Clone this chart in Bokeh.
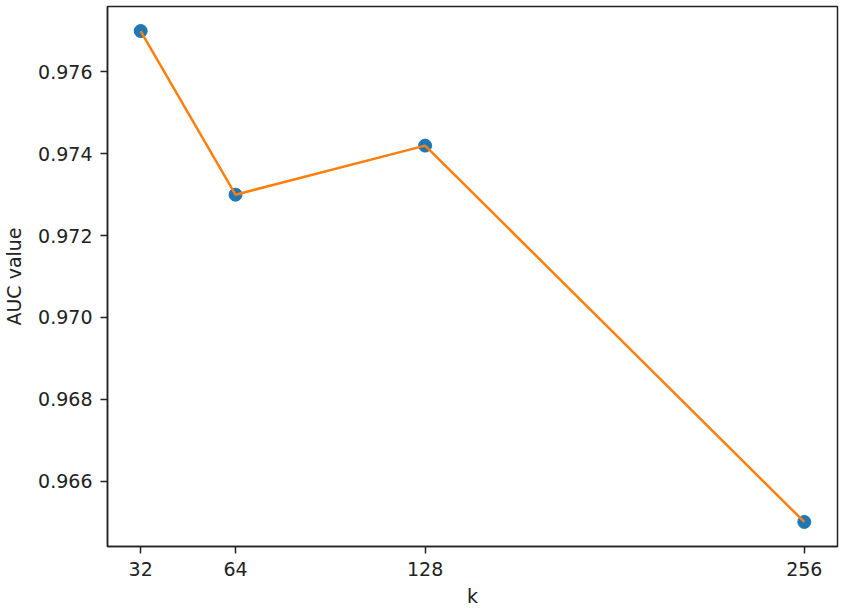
from bokeh.plotting import figure
from bokeh.models import Range1d, FixedTicker, CustomJSTickFormatter
from bokeh.embed import file_html
from bokeh.resources import INLINE

k_values = [32, 64, 128, 256]
auc_values = [0.977, 0.973, 0.9742, 0.965]
x_ticks = [32, 64, 128, 256]
y_ticks = [0.966, 0.968, 0.970, 0.972, 0.974, 0.976]

xpad = (max(k_values) - min(k_values)) * 0.05
ypad = (max(auc_values) - min(auc_values)) * 0.05

p = figure(width=833, height=606, output_backend="svg", toolbar_location=None,
           x_range=Range1d(min(k_values) - xpad, max(k_values) + xpad),
           y_range=Range1d(min(auc_values) - ypad, max(auc_values) + ypad),
           frame_width=730, frame_height=540,
           min_border_left=99, min_border_right=4, min_border_top=6, min_border_bottom=60)

p.grid.visible = False
p.outline_line_color = "#222222"
p.outline_line_width = 1.5
p.background_fill_color = "white"
p.border_fill_color = "white"

p.scatter(k_values, auc_values, size=13, fill_color="#1f77b4", line_color="#1f77b4")
p.line(k_values, auc_values, line_color="#ff7f0e", line_width=2.5)

for ax in (p.xaxis[0], p.yaxis[0]):
    ax.major_label_text_font = "DejaVu Sans"
    ax.major_label_text_font_size = "19px"
    ax.major_label_text_color = "#222222"
    ax.axis_label_text_font = "DejaVu Sans"
    ax.axis_label_text_font_size = "19px"
    ax.axis_label_text_font_style = "normal"
    ax.axis_label_text_color = "#222222"
    ax.major_tick_in = 0
    ax.major_tick_out = 7
    ax.minor_tick_in = 0
    ax.minor_tick_out = 0
    ax.axis_line_color = "#222222"
    ax.axis_line_width = 1.5
    ax.major_tick_line_color = "#222222"
    ax.major_tick_line_width = 1.5

p.xaxis.ticker = FixedTicker(ticks=x_ticks)
p.yaxis.ticker = FixedTicker(ticks=y_ticks)
p.yaxis.formatter = CustomJSTickFormatter(code="return tick.toFixed(3);")
p.xaxis.axis_label = "k"
p.yaxis.axis_label = "AUC value"
p.xaxis.major_label_standoff = 8
p.yaxis.major_label_standoff = 8
p.xaxis.axis_label_standoff = 6
p.yaxis.axis_label_standoff = 10

open("out.html", "w").write(file_html(p, INLINE))
